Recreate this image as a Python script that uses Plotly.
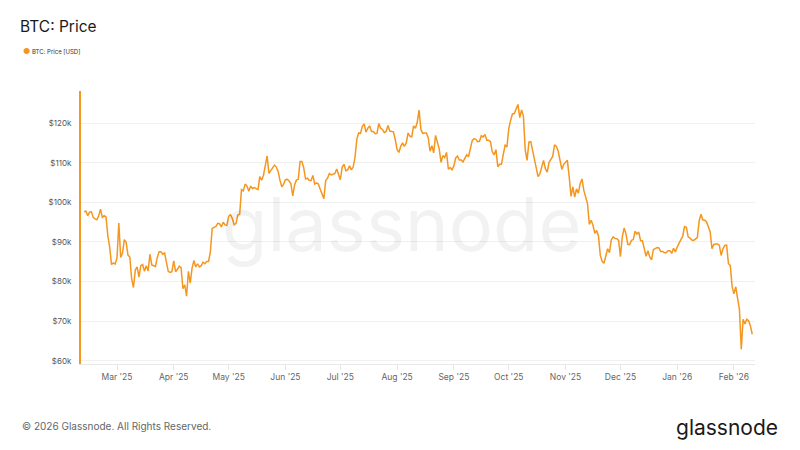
import pandas as pd
import plotly.graph_objects as go

# BTC daily close, USD thousands, 11 Feb 2025 -> 11 Feb 2026
feb25 = [97.6, 97.8, 96.6, 97.5, 97.6, 96.2, 95.8, 95.6, 96.6, 98.3, 96.2, 96.6, 96.3, 91.5, 88.7, 84.3, 84.7, 84.4]
mar25 = [86.0, 94.8, 86.1, 87.2, 90.6, 89.9, 86.7, 86.2, 80.7, 78.5, 82.9, 83.7, 81.1, 84.0, 84.3, 82.6, 84.0, 82.7,
         86.9, 84.2, 84.0, 83.8, 86.1, 87.5, 87.5, 86.9, 87.2, 84.4, 82.6, 82.3, 82.5]
apr25 = [85.2, 82.5, 83.1, 83.9, 83.5, 78.2, 79.2, 76.3, 82.6, 79.6, 83.4, 85.3, 83.7, 84.5, 83.7, 84.0, 84.9, 84.5,
         85.1, 85.1, 87.5, 93.4, 93.7, 93.9, 94.7, 94.6, 93.8, 95.0, 94.3, 94.2]
may25 = [96.5, 96.9, 95.9, 94.3, 94.7, 96.8, 97.0, 103.2, 102.9, 104.6, 104.1, 102.8, 104.1, 103.5, 103.7, 103.5,
         103.2, 106.5, 105.6, 106.8, 109.7, 111.7, 107.3, 108.0, 108.9, 109.4, 108.9, 107.8, 105.6, 103.9, 104.6]
jun25 = [105.7, 105.8, 105.4, 104.7, 101.6, 104.4, 105.6, 105.8, 110.3, 110.3, 108.7, 105.9, 106.1, 105.5, 105.5,
         106.8, 104.6, 104.9, 104.6, 103.3, 102.2, 100.9, 105.5, 106.1, 107.3, 106.9, 107.1, 107.3, 108.4, 107.1]
jul25 = [105.7, 108.9, 109.6, 108.0, 108.2, 109.2, 108.2, 108.9, 111.3, 115.9, 117.5, 117.4, 119.1, 119.8, 117.7,
         118.7, 119.3, 117.9, 117.9, 117.3, 117.4, 119.9, 118.7, 118.4, 117.6, 117.9, 119.4, 118.0, 117.9, 117.8, 115.8]
aug25 = [113.3, 112.6, 114.2, 115.0, 114.1, 115.0, 117.5, 116.7, 116.5, 119.3, 118.7, 120.2, 123.3, 118.4, 117.4,
         117.5, 117.5, 116.3, 112.9, 114.3, 112.5, 116.9, 115.4, 113.5, 110.1, 111.8, 111.3, 112.6, 108.4, 108.8, 108.2]
sep25 = [109.2, 111.2, 111.7, 110.7, 110.7, 110.2, 111.1, 112.0, 111.5, 113.9, 115.5, 116.1, 115.9, 115.3, 115.4,
         116.8, 116.5, 117.1, 115.7, 115.7, 115.3, 112.7, 112.0, 113.3, 109.0, 109.6, 109.6, 112.1, 114.4, 114.0]
oct25 = [118.6, 120.7, 122.3, 122.4, 123.5, 124.7, 121.4, 123.3, 121.7, 113.2, 110.6, 115.2, 115.3, 113.1, 110.8,
         108.2, 106.5, 107.2, 108.7, 110.6, 108.5, 107.6, 110.1, 111.0, 111.6, 114.5, 114.1, 112.9, 110.1, 108.3, 109.6]
nov25 = [110.1, 110.6, 106.5, 101.5, 103.9, 101.3, 103.4, 102.3, 104.7, 105.9, 103.0, 101.6, 99.7, 94.4, 95.5,
         94.2, 92.2, 92.9, 91.5, 86.6, 85.1, 84.6, 86.8, 88.3, 87.3, 90.5, 91.3, 90.9, 90.8, 90.4]
dec25 = [86.3, 91.3, 93.5, 92.1, 89.4, 89.3, 90.4, 90.6, 92.7, 92.0, 92.5, 90.3, 90.3, 88.2, 86.4, 87.8, 86.2, 85.5,
         88.1, 88.3, 88.6, 88.5, 87.6, 87.6, 87.3, 87.3, 87.8, 87.8, 87.1, 88.4, 87.5]
jan26 = [88.7, 89.9, 90.6, 91.4, 93.9, 93.7, 91.3, 91.0, 90.5, 90.4, 90.8, 91.1, 95.3, 97.0, 95.6, 95.5, 95.1, 93.6,
         92.6, 88.3, 89.4, 89.5, 89.5, 89.2, 86.6, 88.3, 89.1, 89.2, 84.5, 84.1, 78.7]
feb26 = [76.9, 78.7, 75.7, 73.0, 62.9, 70.5, 69.3, 70.5, 70.1, 68.8, 66.7]

price = feb25 + mar25 + apr25 + may25 + jun25 + jul25 + aug25 + sep25 + oct25 + nov25 + dec25 + jan26 + feb26
dates = pd.date_range("2025-02-11", periods=len(price), freq="D")

y_ticks = [60, 70, 80, 90, 100, 110, 120]
y_labels = ["$60k", "$70k", "$80k", "$90k", "$100k", "$110k", "$120k"]

ORANGE = "#F5961F"
FONT = "Inter, Roboto, sans-serif"

fig = go.Figure()
fig.add_trace(go.Scatter(
    x=dates, y=price, mode="lines",
    line=dict(color=ORANGE, width=1.5),
    name="BTC: Price [USD]",
    showlegend=False,
))

# page body has an 8px margin, so everything is laid out 8px up/left
fig.update_layout(
    width=800, height=450,
    margin=dict(l=73, r=53, t=83, b=94),
    plot_bgcolor="white",
    paper_bgcolor="white",
    font=dict(family=FONT, size=9, color="#555"),
    title=dict(
        text="BTC: Price",
        x=12 / 800, xref="container", xanchor="left",
        y=1 - 19 / 450, yref="container", yanchor="middle",
        font=dict(family=FONT, size=15.5, color="#1a1a1a"),
    ),
)

fig.update_xaxes(
    range=["2025-02-09 08:00", "2026-02-12 12:00"],
    tick0="2025-03-01", dtick="M1", tickformat="%b '%y",
    ticks="outside", ticklen=5, tickcolor="#e6e6e6",
    showline=True, linecolor="#e8e8e8", linewidth=1,
    showgrid=False, zeroline=False,
    tickfont=dict(size=8.5, color="#666"),
)
fig.update_yaxes(
    range=[59.2, 128.1],
    tickmode="array", tickvals=y_ticks, ticktext=y_labels,
    showline=True, linecolor=ORANGE, linewidth=2,
    showgrid=True, gridcolor="#f0f0f0", gridwidth=1,
    zeroline=False, ticks="", ticklabelstandoff=6,
    tickfont=dict(size=8, color="#555"),
)

# legend entry
fig.add_annotation(
    xref="paper", yref="paper", x=(21 - 81) / 674, y=(364 - 51) / 273,
    xanchor="left", yanchor="middle", showarrow=False,
    text="<span style='color:%s;font-size:8px'>●</span> BTC: Price [USD]" % ORANGE,
    font=dict(family=FONT, size=6, color="#333"),
)

# watermark
fig.add_annotation(
    xref="paper", yref="paper", x=(402 - 81) / 674, y=(364 - 224) / 273,
    xanchor="center", yanchor="middle", showarrow=False,
    text="glassnode",
    font=dict(family=FONT, size=74, color="rgba(0,0,0,0.05)"),
)

# footer
fig.add_annotation(
    xref="paper", yref="paper", x=(20 - 81) / 674, y=(364 - 426) / 273,
    xanchor="left", yanchor="middle", showarrow=False,
    text="© 2026 Glassnode. All Rights Reserved.",
    font=dict(family=FONT, size=10, color="#666"),
)
fig.add_annotation(
    xref="paper", yref="paper", x=(780 - 81) / 674, y=(364 - 427) / 273,
    xanchor="right", yanchor="middle", showarrow=False,
    text="glassnode",
    font=dict(family=FONT, size=21, color="#1a1a1a"),
)

fig.write_html("out.html")
